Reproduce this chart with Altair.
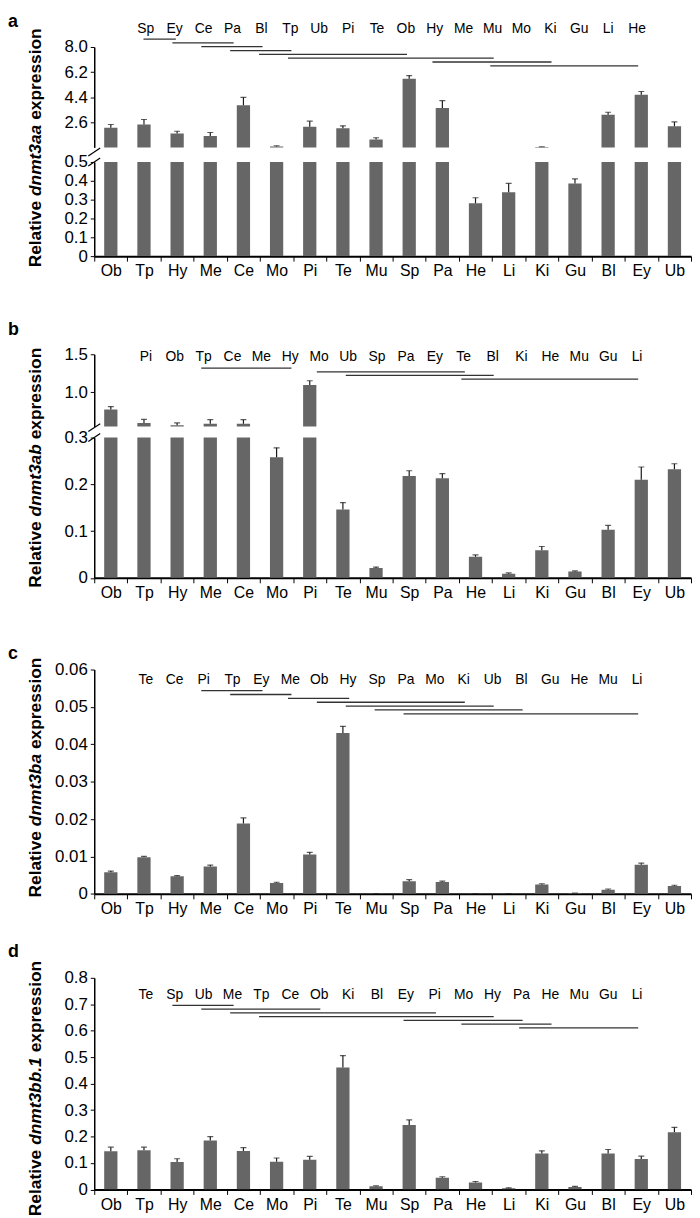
import altair as alt
import pandas as pd

# ---------------- data ----------------
tissues = ["Ob", "Tp", "Hy", "Me", "Ce", "Mo", "Pi", "Te", "Mu",
           "Sp", "Pa", "He", "Li", "Ki", "Gu", "Bl", "Ey", "Ub"]

a_values = [2.21, 2.44, 1.80, 1.61, 3.82, 0.87, 2.28, 2.18, 1.37,
            5.72, 3.63, 0.281, 0.339, 0.82, 0.386, 3.15, 4.58, 2.32]
a_errors = [0.23, 0.36, 0.16, 0.26, 0.57, 0.05, 0.40, 0.17, 0.12,
            0.23, 0.52, 0.029, 0.047, 0.02, 0.024, 0.17, 0.23, 0.31]

b_values = [0.773, 0.596, 0.565, 0.587, 0.587, 0.258, 1.095, 0.146, 0.021,
            0.218, 0.213, 0.045, 0.0085, 0.059, 0.0134, 0.103, 0.210, 0.232]
b_errors = [0.039, 0.047, 0.031, 0.052, 0.052, 0.020, 0.057, 0.015, 0.002,
            0.011, 0.010, 0.004, 0.002, 0.008, 0.0014, 0.009, 0.027, 0.012]

c_values = [0.0058, 0.0098, 0.0047, 0.0073, 0.0188, 0.0029, 0.0105, 0.0430, 0.0001,
            0.0034, 0.0032, 0.0001, 0.0001, 0.0025, 0.0002, 0.0011, 0.0078, 0.0021]
c_errors = [0.0003, 0.0002, 0.0002, 0.0004, 0.0015, 0.0002, 0.0006, 0.0018, 0.0,
            0.0004, 0.0002, 0.0, 0.0, 0.0002, 0.0, 0.0002, 0.0004, 0.0002]

d_values = [0.144, 0.148, 0.104, 0.185, 0.145, 0.105, 0.1125, 0.461, 0.0125,
            0.244, 0.044, 0.026, 0.005, 0.136, 0.009, 0.136, 0.115, 0.216]
d_errors = [0.016, 0.012, 0.012, 0.015, 0.013, 0.014, 0.0125, 0.045, 0.0015,
            0.019, 0.004, 0.004, 0.001, 0.010, 0.003, 0.015, 0.011, 0.019]

a_order = ["Sp", "Ey", "Ce", "Pa", "Bl", "Tp", "Ub", "Pi", "Te", "Ob",
           "Hy", "Me", "Mu", "Mo", "Ki", "Gu", "Li", "He"]
a_groups = [("Sp", "Ey"), ("Ey", "Pa"), ("Ce", "Bl"), ("Pa", "Tp"),
            ("Bl", "Ob"), ("Tp", "Mu"), ("Hy", "Ki"), ("Mu", "He")]

b_order = ["Pi", "Ob", "Tp", "Ce", "Me", "Hy", "Mo", "Ub", "Sp", "Pa",
           "Ey", "Te", "Bl", "Ki", "He", "Mu", "Gu", "Li"]
b_groups = [("Tp", "Hy"), ("Mo", "Te"), ("Ub", "Bl"), ("Te", "Li")]

c_order = ["Te", "Ce", "Pi", "Tp", "Ey", "Me", "Ob", "Hy", "Sp", "Pa",
           "Mo", "Ki", "Ub", "Bl", "Gu", "He", "Mu", "Li"]
c_groups = [("Pi", "Ey"), ("Tp", "Me"), ("Me", "Hy"), ("Ob", "Ki"),
            ("Hy", "Ub"), ("Sp", "Bl"), ("Pa", "Li")]

d_order = ["Te", "Sp", "Ub", "Me", "Tp", "Ce", "Ob", "Ki", "Bl", "Ey",
           "Pi", "Mo", "Hy", "Pa", "He", "Mu", "Gu", "Li"]
d_groups = [("Sp", "Me"), ("Ub", "Ob"), ("Me", "Pi"), ("Tp", "Hy"),
            ("Ey", "Pa"), ("Mo", "He"), ("Pa", "Li")]

# ---------------- style / layout ----------------
FONT = "Liberation Sans, Arial, Helvetica, sans-serif"
W = 602
LEFT = 95            # page x of plot area left edge
BAR_COLOR = "#666666"
ERR_COLOR = "#1a1a1a"
LINE_COLOR = "#333333"
TITLE_SIZE = 17.5
TICK_FONT = 17
ANN_FONT = 14
LABEL_X0 = 147.0     # page x of first annotation label
LABEL_STEP = 29.15

BOLD_W = {"R": 722, "e": 556, "l": 278, "a": 556, "t": 333, "i": 278, "v": 556,
          " ": 278, "d": 611, "n": 611, "m": 889, "3": 556, "b": 611, ".": 278,
          "1": 556, "x": 556, "p": 611, "r": 389, "s": 556, "o": 611}


def text_w(s, size):
    return sum(BOLD_W.get(ch, 556) for ch in s) * size / 1000.0


def frame(values, errors):
    return pd.DataFrame({"tissue": tissues, "value": values,
                         "top": [v + e for v, e in zip(values, errors)]})


def label_expr(dec):
    return f"datum.value == 0 ? '0' : format(datum.value, '.{dec}f')"


def main_layer(df, domain, ticks, dec, show_x):
    xaxis = alt.Axis(title=None, labelAngle=0, tickBand="extent", tickSize=5,
                     tickColor="black", tickWidth=1, domainColor="black",
                     domainWidth=2, labelFont=FONT, labelFontSize=16,
                     labelColor="black", labelPadding=2, labelOverlap=False,
                     grid=False) if show_x else None
    xs = alt.Scale(domain=tissues, paddingInner=0, paddingOuter=0)
    ys = alt.Scale(domain=domain, nice=False, zero=False)
    yaxis = alt.Axis(title=None, values=ticks, labelExpr=label_expr(dec),
                     tickSize=4, tickColor="black", tickWidth=1,
                     domainColor="black", domainWidth=1.5, labelFont=FONT,
                     labelFontSize=TICK_FONT, labelColor="black", labelPadding=3,
                     labelOverlap=False, labelBound=False, labelFlush=False,
                     grid=False)
    xenc = alt.X("tissue:N", sort=tissues, scale=xs, axis=xaxis)
    bars = alt.Chart(df).mark_bar(color=BAR_COLOR, clip=True,
                                  width={"band": 0.4}).encode(
        x=xenc,
        y=alt.Y("value:Q", scale=ys, axis=yaxis),
        y2=alt.datum(0),
    )
    stems = alt.Chart(df).mark_rule(color=ERR_COLOR, strokeWidth=1.2,
                                    clip=True).encode(
        x=xenc,
        y=alt.Y("value:Q", scale=ys, axis=yaxis),
        y2="top:Q",
    )
    caps = alt.Chart(df).mark_tick(color=ERR_COLOR, thickness=1.2, size=6,
                                   clip=True).encode(
        x=xenc,
        y=alt.Y("top:Q", scale=ys, axis=yaxis),
    )
    return alt.layer(bars, stems, caps)


def annotation(order, groups, T, H, L, F, s):
    lab = pd.DataFrame({"name": order, "pos": list(range(len(order))),
                        "level": [0] * len(order)})
    rows = pd.DataFrame({
        "start": [order.index(g[0]) - 0.08 for g in groups],
        "end": [order.index(g[1]) + 0.04 for g in groups],
        "level": list(range(1, len(groups) + 1)),
    })
    x0 = (LABEL_X0 - LEFT) / LABEL_STEP
    xs = alt.Scale(domain=[-x0, -x0 + W / LABEL_STEP], nice=False, zero=False)
    d0 = 1 - (F - T) / s
    ys = alt.Scale(domain=[d0, d0 + H / s], reverse=True, nice=False, zero=False)
    text = alt.Chart(lab).mark_text(font=FONT, fontSize=ANN_FONT, baseline="middle",
                                    color="black", dy=L - (F - s)).encode(
        x=alt.X("pos:Q", scale=xs, axis=None),
        y=alt.Y("level:Q", scale=ys, axis=None),
        text="name:N",
    )
    lines = alt.Chart(rows).mark_rule(color=LINE_COLOR, strokeWidth=1.3).encode(
        x=alt.X("start:Q", scale=xs, axis=None),
        x2="end:Q",
        y=alt.Y("level:Q", scale=ys, axis=None),
    )
    return alt.layer(text, lines)


def one_text(txt, x, y, **kw):
    return alt.Chart(pd.DataFrame({"t": [txt]})).mark_text(**kw).encode(
        x=alt.value(x), y=alt.value(y), text="t:N")


def ytitle(gene, bottom_rel):
    xrel = 36 - LEFT
    pieces = [("Relative", "normal"), (gene, "italic"), ("expression", "normal")]
    y = bottom_rel
    out = []
    for txt, style in pieces:
        out.append(one_text(txt, xrel, y, angle=270, align="left",
                            baseline="middle", font=FONT, fontSize=TITLE_SIZE,
                            fontWeight="bold", fontStyle=style, color="black"))
        y -= text_w(txt + " ", TITLE_SIZE)
    return out


def letter(ch, rel_y):
    return one_text(ch, 8 - LEFT, rel_y, align="left", baseline="top",
                    font=FONT, fontSize=18, fontWeight="bold", color="black")


def breaks():
    out = []
    for y1, y2 in [(4, -4), (-6, -14)]:
        out.append(alt.Chart(pd.DataFrame({"v": [0]})).mark_rule(
            color="black", strokeWidth=1.2).encode(
            x=alt.value(-6), x2=alt.value(6), y=alt.value(y1), y2=alt.value(y2)))
    return out


def spacer(h):
    return alt.Chart(pd.DataFrame({"v": [0]})).mark_point(opacity=0).encode(
        x=alt.value(0), y=alt.value(0)).properties(width=W, height=h)


def panel(parts, T, B):
    return alt.layer(*parts).resolve_scale(
        x="independent", y="independent").properties(width=W, height=B - T)


# ---- panel a ----
aT1, aB1, aT2, aB2 = 42.0, 143.3, 156.7, 251.7
a_df = frame(a_values, a_errors)
a_up = panel([main_layer(a_df, [0.8, 8.0], [2.6, 4.4, 6.2, 8.0], 1, False),
              annotation(a_order, a_groups, aT1, aB1 - aT1, 24.0, 34.0, 3.86),
              letter("a", 8 - aT1)], aT1, aB1)
a_lo = panel([main_layer(a_df, [0, 0.5], [0, 0.1, 0.2, 0.3, 0.4, 0.5], 1, True)]
             + breaks() + ytitle("dnmt3aa", 263 - aT2), aT2, aB2)

# ---- panel b ----
bT1, bB1, bT2, bB2 = 350.0, 422.8, 433.5, 575.0
b_df = frame(b_values, b_errors)
b_up = panel([main_layer(b_df, [0.55, 1.5], [1.0, 1.5], 1, False),
              annotation(b_order, b_groups, bT1, bB1 - bT1, 352.7, 364.0, 3.67),
              letter("b", 317 - bT1)], bT1, bB1)
b_lo = panel([main_layer(b_df, [0, 0.3], [0, 0.1, 0.2, 0.3], 1, True)]
             + breaks() + ytitle("dnmt3ab", 585 - bT2), bT2, bB2)

# ---- panel c ----
cT, cB = 667.0, 893.3
c_df = frame(c_values, c_errors)
c_ch = panel([main_layer(c_df, [0, 0.06], [0, 0.01, 0.02, 0.03, 0.04, 0.05, 0.06], 2, True),
              annotation(c_order, c_groups, cT, cB - cT, 677.5, 688.3, 3.9),
              letter("c", 642 - cT)] + ytitle("dnmt3ba", 897 - cT), cT, cB)

# ---- panel d ----
dT, dB = 976.5, 1190.0
d_df = frame(d_values, d_errors)
d_ch = panel([main_layer(d_df, [0, 0.8], [0, 0.1, 0.2, 0.3, 0.4, 0.5, 0.6, 0.7, 0.8], 1, True),
              annotation(d_order, d_groups, dT, dB - dT, 993.5, 1004.3, 3.79),
              letter("d", 941 - dT)] + ytitle("dnmt3bb.1", 1217 - dT), dT, dB)

chart = alt.vconcat(
    a_up, spacer(aT2 - aB1), a_lo, spacer(bT1 - aB2),
    b_up, spacer(bT2 - bB1), b_lo, spacer(cT - bB2),
    c_ch, spacer(dT - cB), d_ch,
    spacing=0, bounds="flush",
).resolve_scale(x="independent", y="independent").properties(
    padding=0
).configure_view(stroke=None).configure_axis(labelOverlap=False)

chart.save("out.html", embed_options={"renderer": "svg", "actions": False})
